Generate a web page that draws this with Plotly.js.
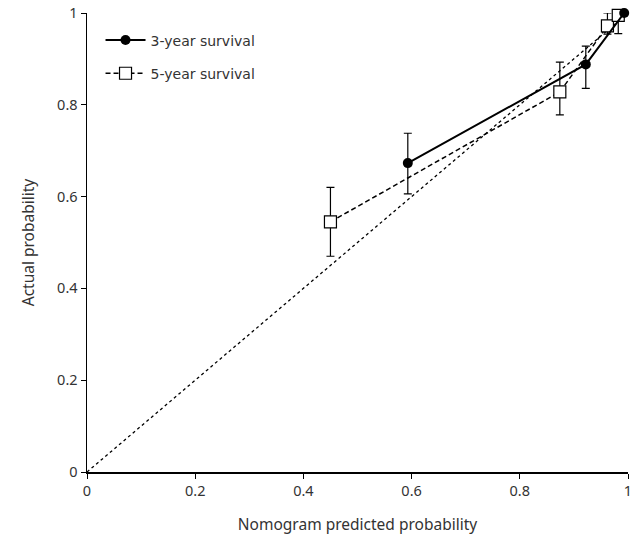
<!DOCTYPE html>
<html>
<head>
<meta charset="utf-8">
<script src="https://cdn.plot.ly/plotly-3.0.1.min.js"></script>
<style>html,body{margin:0;padding:0;background:#fff;}</style>
</head>
<body>
<div id="chart" style="width:638px;height:543px;"></div>
<script>
// 3-year survival
const pred3 = [0.593, 0.922, 0.993];
const act3 = [0.673, 0.888, 1.0];
const err3Up = [0.065, 0.04, 0.0];
const err3Down = [0.067, 0.052, 0.0];
// 5-year survival
const pred5 = [0.450, 0.874, 0.962, 0.982];
const act5 = [0.545, 0.828, 0.972, 0.995];
const err5Up = [0.075, 0.065, 0.028, 0.005];
const err5Down = [0.075, 0.05, 0.018, 0.04];
// reference line
const refX = [0, 1];
const refY = [0, 1];
const ticks = [0, 0.2, 0.4, 0.6, 0.8, 1];
const tickText = ['0', '0.2', '0.4', '0.6', '0.8', '1'];

const font = {family: 'Noto Sans, sans-serif', size: 13, color: '#333'};

const traces = [
  {x: refX, y: refY, mode: 'lines', line: {color: '#000', width: 1.3, dash: 'dot'},
   showlegend: false, hoverinfo: 'skip'},
  {x: pred5, y: act5, mode: 'lines+markers', name: '5-year survival', legendgroup: 'b', legendrank: 2,
   line: {color: '#000', width: 1.5, dash: '5px,3px'},
   marker: {symbol: 'square', size: 12, color: '#fff', line: {color: '#000', width: 1.2}},
   error_y: {type: 'data', symmetric: false, array: err5Up, arrayminus: err5Down,
     color: '#000', thickness: 1.2, width: 4}, cliponaxis: false},
  {x: pred3, y: act3, mode: 'lines+markers', name: '3-year survival', legendgroup: 'a', legendrank: 1,
   line: {color: '#000', width: 2},
   marker: {symbol: 'circle', size: 10, color: '#000'},
   error_y: {type: 'data', symmetric: false, array: err3Up, arrayminus: err3Down,
     color: '#000', thickness: 1.2, width: 4}, cliponaxis: false}
];

const layout = {
  width: 638, height: 543,
  margin: {l: 87, r: 10, t: 13, b: 71},
  paper_bgcolor: '#fff', plot_bgcolor: '#fff',
  font: font,
  showlegend: true,
  legend: {x: 0.025, y: 0.975, xanchor: 'left', yanchor: 'top', traceorder: 'grouped',
    bgcolor: 'rgba(0,0,0,0)', font: {family: 'DejaVu Sans, sans-serif', size: 14, color: '#333'},
    itemwidth: 40, tracegroupgap: 12},
  xaxis: {range: [0, 1], tickvals: ticks, ticktext: tickText, showgrid: false, zeroline: false,
    showline: true, linecolor: '#000', linewidth: 1.5, ticks: 'outside', ticklen: 5,
    tickcolor: '#000', tickfont: {size: 14.5, color: '#333'},
    title: {text: 'Nomogram predicted probability', font: {size: 15.5, color: '#333'}, standoff: 20}},
  yaxis: {range: [0, 1], tickvals: ticks, ticktext: tickText, showgrid: false, zeroline: false,
    showline: true, linecolor: '#000', linewidth: 1.5, ticks: 'outside', ticklen: 5,
    tickcolor: '#000', tickfont: {size: 14.5, color: '#333'},
    title: {text: 'Actual probability', font: {size: 15.5, color: '#333'}, standoff: 18}}
};

Plotly.newPlot('chart', traces, layout, {displayModeBar: false, staticPlot: true});
</script>
</body>
</html>
